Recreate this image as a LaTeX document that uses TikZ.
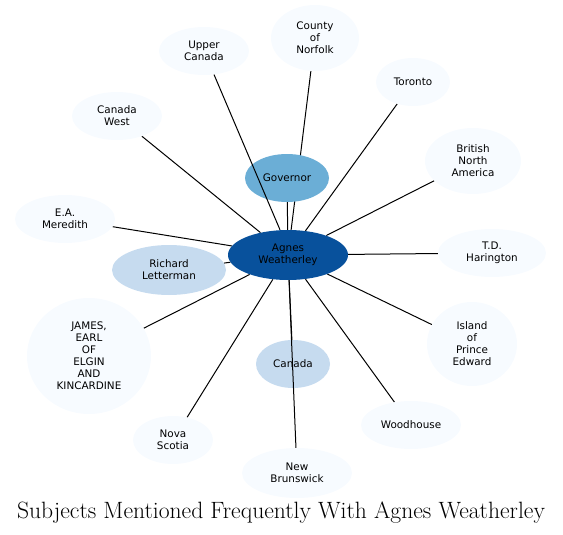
\documentclass[tikz,border=0pt]{standalone}
\usepackage{fontspec}
\newfontfamily\labelfont{DejaVu Sans}
\usetikzlibrary{shapes.geometric,backgrounds}
\definecolor{agnesblue}{HTML}{08519C}
\definecolor{govblue}{HTML}{6BAED6}
\definecolor{midblue}{HTML}{C6DBEF}
\definecolor{paleblue}{HTML}{F7FBFF}

\begin{document}
\begin{tikzpicture}[
        x=1pt, y=-1pt,
        subj/.style={ellipse, fill=#1, draw=none, inner sep=0pt, text=black,
            align=center, font=\labelfont\fontsize{10.4}{12}\selectfont},
        link/.style={draw=black, line width=1pt}
    ]
        \useasboundingbox (0,0) rectangle (563,535);
        % centre
        \node[subj=agnesblue, minimum width=120, minimum height=50] (agnes) at (288,255) {Agnes\\Weatherley};
        % frequent subjects
        \node[subj=govblue, minimum width=84, minimum height=48] (gov) at (287,178) {Governor};
        \node[subj=midblue, minimum width=114, minimum height=50] (rich) at (169,270) {Richard\\Letterman};
        \node[subj=midblue, minimum width=74, minimum height=48] (canada) at (293,364) {Canada};
        % other subjects
        \node[subj=paleblue, minimum width=90, minimum height=48] (upper) at (204,51) {Upper\\Canada};
        \node[subj=paleblue, minimum width=88, minimum height=66] (norfolk) at (315,38) {County\\of\\Norfolk};
        \node[subj=paleblue, minimum width=74, minimum height=48] (toronto) at (413,82) {Toronto};
        \node[subj=paleblue, minimum width=96, minimum height=66] (bna) at (473,161) {British\\North\\America};
        \node[subj=paleblue, minimum width=108, minimum height=48] (tdh) at (492,253) {T.D.\\Harington};
        \node[subj=paleblue, minimum width=90, minimum height=84] (island) at (472,344) {Island\\of\\Prince\\Edward};
        \node[subj=paleblue, minimum width=100, minimum height=48] (woodh) at (411,425) {Woodhouse};
        \node[subj=paleblue, minimum width=110, minimum height=50] (nbr) at (297,473) {New\\Brunswick};
        \node[subj=paleblue, minimum width=80, minimum height=48] (nova) at (173,440) {Nova\\Scotia};
        \node[subj=paleblue, minimum width=124, minimum height=116] (james) at (89,356) {JAMES,\\EARL\\OF\\ELGIN\\AND\\KINCARDINE};
        \node[subj=paleblue, minimum width=100, minimum height=48] (eam) at (65,219) {E.A.\\Meredith};
        \node[subj=paleblue, minimum width=90, minimum height=48] (cwest) at (117,116) {Canada\\West};
        % connectors
        \begin{scope}[on background layer]
            \foreach \n in {gov,rich,canada,norfolk,toronto,bna,tdh,island,woodh,nova,james,eam,cwest}
                \draw[link] (agnes) -- (\n);
        \end{scope}
        \draw[link] (upper) -- ([xshift=-8pt]agnes.north);
        \draw[link] (agnes) -- (nbr);
        \node[font=\fontsize{23.6}{28}\selectfont] (title) at (281,513) {Subjects Mentioned Frequently With Agnes Weatherley};
    \end{tikzpicture}
\end{document}
